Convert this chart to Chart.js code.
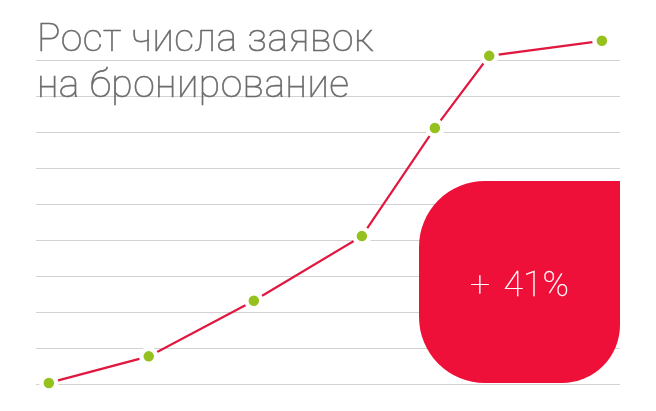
<!DOCTYPE html>
<html>
<head>
<meta charset="utf-8">
<script src="https://cdn.jsdelivr.net/npm/chart.js@4.4.0/dist/chart.umd.min.js"></script>
<style>
  html, body { margin: 0; padding: 0; background: #fff; }
  #wrap { width: 656px; height: 411px; }
</style>
</head>
<body>
<div id="wrap"><canvas id="growth" width="656" height="411"></canvas></div>
<script>
// заголовок и подпись
var titleLines = ['Рост числа заявок', 'на бронирование'];
var badgeText = '+ 41%';

// положение точек по горизонтали (в % ширины) и значения
var xValues = [2.2, 19.3, 37.3, 55.8, 68.3, 77.6, 96.9];
var yValues = [0.3, 7.7, 23.2, 41.2, 71.3, 91.4, 95.6];

var points = xValues.map(function (x, i) { return { x: x, y: yValues[i] }; });

var overlay = {
  id: 'overlay',
  beforeDatasetsDraw: function (chart) {
    var c = chart.ctx, a = chart.chartArea;
    // красный блок справа внизу
    var r = a.right, b = a.bottom - 1, w = 201, h = 202;
    var l = r - w, t = b - h;
    c.save();
    c.fillStyle = '#ef103a';
    c.beginPath();
    c.roundRect(l, t, w, h, [66, 0, 58, 66]);
    c.fill();
    c.fillStyle = '#ffffff';
    c.strokeStyle = '#ffffff';
    c.lineWidth = 0.3;
    c.font = '100 35.5px Roboto';
    c.textAlign = 'center';
    c.textBaseline = 'alphabetic';
    c.wordSpacing = '5px';
    c.fillText(badgeText, l + w / 2, t + 115);
    c.strokeText(badgeText, l + w / 2, t + 115);
    c.restore();
  },
  afterDraw: function (chart) {
    var c = chart.ctx, a = chart.chartArea;
    c.save();
    c.fillStyle = '#6c6c6c';
    c.strokeStyle = '#6c6c6c';
    c.lineWidth = 0.6;
    c.font = '100 39px Roboto';
    c.letterSpacing = '0.5px';
    c.textAlign = 'left';
    c.textBaseline = 'alphabetic';
    c.fillText(titleLines[0], a.left + 1, 51);
    c.strokeText(titleLines[0], a.left + 1, 51);
    c.fillText(titleLines[1], a.left + 1, 96.5);
    c.strokeText(titleLines[1], a.left + 1, 96.5);
    c.restore();
  }
};

new Chart(document.getElementById('growth'), {
  type: 'line',
  data: {
    datasets: [{
      data: points,
      borderColor: '#e2173f',
      borderWidth: 2.2,
      tension: 0,
      pointRadius: 7.5,
      pointHoverRadius: 7.5,
      pointBorderWidth: 4.5,
      pointBorderColor: '#ffffff',
      pointBackgroundColor: '#95c11f',
      clip: false
    }]
  },
  options: {
    responsive: false,
    animation: false,
    devicePixelRatio: 1,
    layout: { padding: { left: 36, right: 36, top: 25, bottom: 27 } },
    plugins: { legend: { display: false }, tooltip: { enabled: false }, title: { display: false } },
    scales: {
      x: { type: 'linear', min: 0, max: 100, display: false },
      y: {
        min: 0, max: 100,
        ticks: { display: false, stepSize: 10 },
        border: { display: false },
        grid: {
          drawTicks: false,
          lineWidth: 1,
          color: function (ctx) { return ctx.tick && ctx.tick.value >= 100 ? 'rgba(0,0,0,0)' : '#d2d2d2'; }
        },
        afterFit: function (s) { s.width = 0; }
      }
    }
  },
  plugins: [overlay]
});
</script>
</body>
</html>
